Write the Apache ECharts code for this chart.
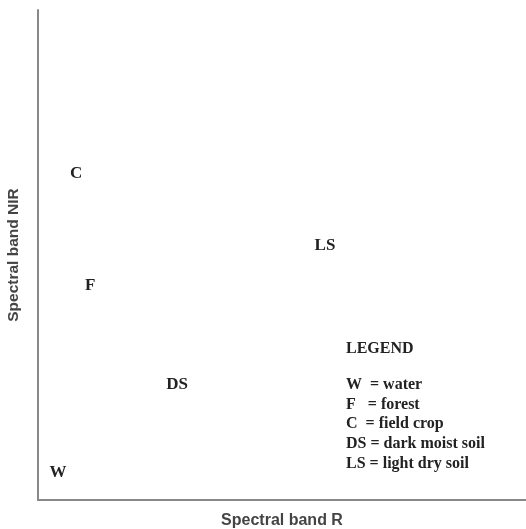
<!DOCTYPE html>
<html><head><meta charset="utf-8">
<script src="https://cdn.jsdelivr.net/npm/echarts@6/dist/echarts.min.js"></script>
<style>html,body{margin:0;padding:0;background:#fff}#c{width:526px;height:529px}</style>
</head><body><div id="c"></div>
<script>
var classes = ['C', 'F', 'LS', 'DS', 'W'];
var bandR = [7.8, 10.7, 58.8, 28.5, 4.1];
var bandNIR = [66.6, 43.8, 51.9, 23.6, 5.6];
var legendTitle = 'LEGEND';
var legendLines = ['W  = water', 'F   = forest', 'C  = field crop', 'DS = dark moist soil', 'LS = light dry soil'];

var chart = echarts.init(document.getElementById('c'));
var data = classes.map(function (c, i) { return { name: c, value: [bandR[i], bandNIR[i]] }; });
chart.setOption({
  animation: false,
  grid: { left: 38, right: 0, top: 10, bottom: 29, outerBoundsMode: 'none', containLabel: false },
  xAxis: {
    type: 'value', min: 0, max: 100,
    name: 'Spectral band R', nameLocation: 'middle', nameGap: 13,
    nameTextStyle: { fontFamily: 'Liberation Sans', fontWeight: 'bold', fontSize: 16, color: '#444' },
    axisLine: { show: true, lineStyle: { color: '#888', width: 2 } },
    axisTick: { show: false }, axisLabel: { show: false }, splitLine: { show: false }
  },
  yAxis: {
    type: 'value', min: 0, max: 100,
    name: 'Spectral band NIR', nameLocation: 'middle', nameGap: 16,
    nameTextStyle: { fontFamily: 'Liberation Sans', fontWeight: 'bold', fontSize: 15.5, color: '#444' },
    axisLine: { show: true, lineStyle: { color: '#888', width: 2 } },
    axisTick: { show: false }, axisLabel: { show: false }, splitLine: { show: false }
  },
  series: [{
    type: 'scatter', symbol: 'circle', symbolSize: 0, itemStyle: { color: '#222', opacity: 1 },
    data: data,
    label: {
      show: true, position: 'inside', formatter: '{b}', opacity: 1,
      fontFamily: 'Liberation Serif', fontWeight: 'bold', fontSize: 17, color: '#222'
    }
  }],
  graphic: [{
    type: 'text', left: 346, top: 341,
    style: { text: legendTitle, fontFamily: 'Liberation Serif', fontWeight: 'bold', fontSize: 16, fill: '#222' }
  }, {
    type: 'text', left: 346, top: 375,
    style: { text: legendLines.join('\n'), lineHeight: 19.7, fontFamily: 'Liberation Serif', fontWeight: 'bold', fontSize: 16, fill: '#222' }
  }]
});
</script></body></html>
